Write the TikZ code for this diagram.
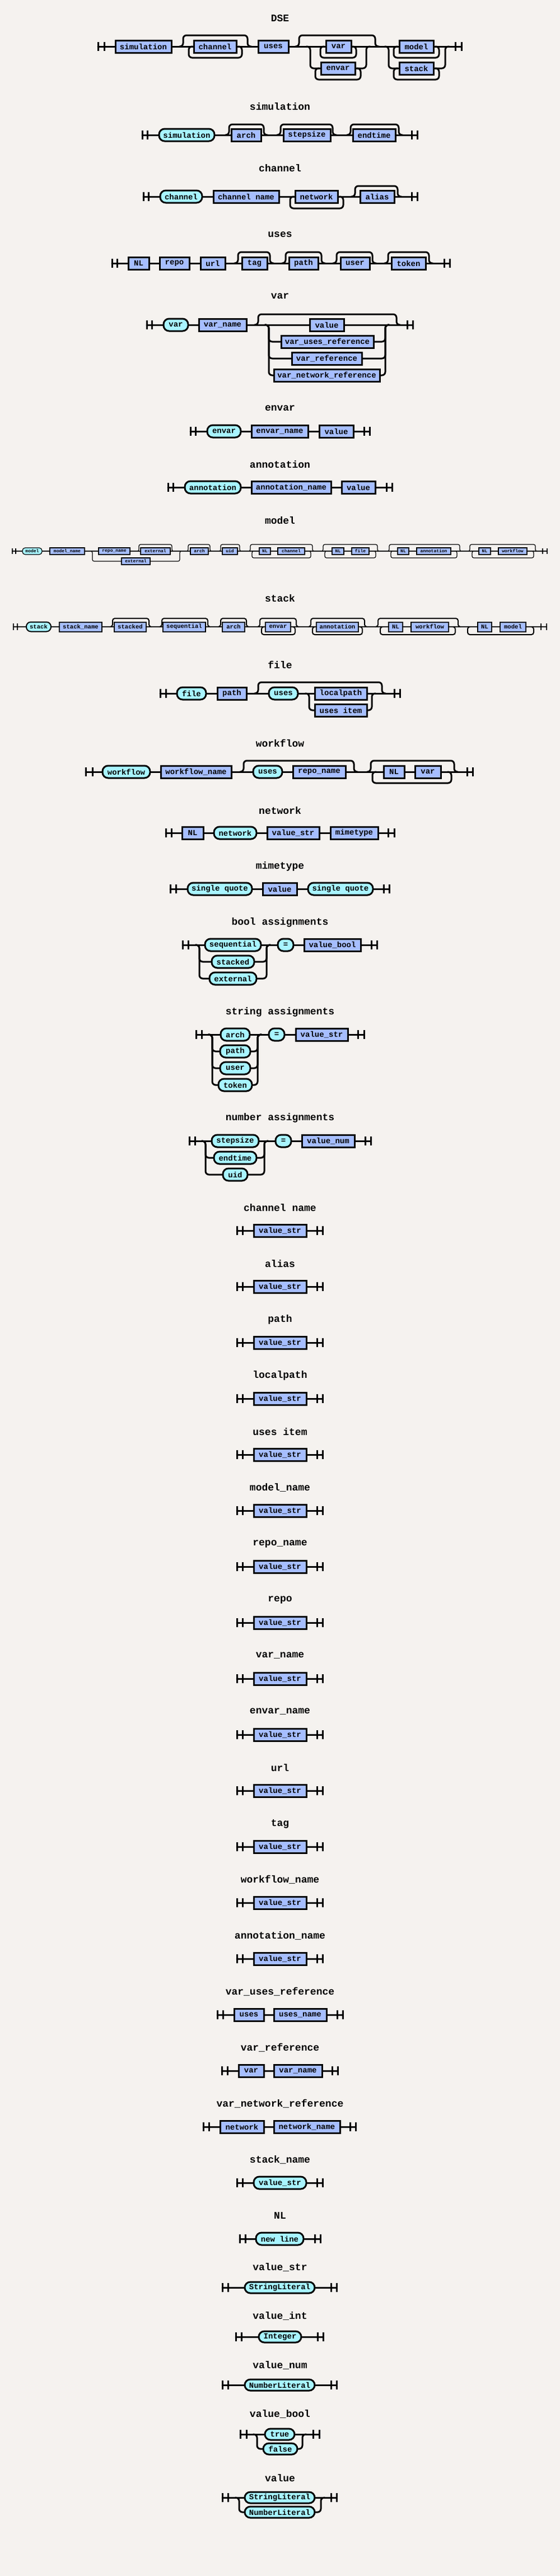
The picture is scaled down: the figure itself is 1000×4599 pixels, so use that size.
\documentclass[tikz,border=0pt]{standalone}
\usepackage{fontspec}
\setmainfont{Liberation Mono}
\begin{document}
\begin{tikzpicture}[x=0.5pt,y=-0.5pt,
  ln/.style={line width=1.5pt,rounded corners=3pt,line cap=round},
  bar/.style={line width=1.5pt},
  box/.style={draw,line width=1.5pt,inner sep=0pt,minimum height=11pt,font=\fontsize{7}{8}\selectfont\bfseries},
  term/.style={box,fill=termc,rounded corners=5pt},
  nt/.style={box,fill=ntc},
  title/.style={font=\fontsize{9}{10}\selectfont\bfseries}]
\definecolor{termc}{HTML}{A8F4FF}
\definecolor{ntc}{HTML}{A6BEFF}
\definecolor{bgc}{HTML}{F5F2EF}
\def\off{7}\def\bh{8}
\newcommand\TT[5]{\node[term,minimum width={(#3-#2)*0.5pt}] (#1) at ({(#2+#3)/2},#4) {#5};}
\newcommand\NN[5]{\node[nt,minimum width={(#3-#2)*0.5pt}] (#1) at ({(#2+#3)/2},#4) {#5};}
\newcommand\SB[4]{\draw[bar] (#2,#4-\bh) -- (#2,#4+\bh); \draw[bar] (#3,#4-\bh) -- (#3,#4+\bh); \coordinate (#1) at (#2,#4);}
\newcommand\EB[4]{\draw[bar] (#2,#4-\bh) -- (#2,#4+\bh); \draw[bar] (#3,#4-\bh) -- (#3,#4+\bh); \coordinate (#1) at (#3,#4);}
\newcommand\TI[3]{\node[title] (#1) at (500,#2) {#3};}
\newcommand\byp[4]{\draw[ln] (#1,#3) -- (#1+\off,#3) -- (#1+\off,#4) -- (#2-\off,#4) -- (#2-\off,#3) -- (#2,#3);}
\newcommand\lpb[4]{\draw[ln] (#1+\off,#3) -- (#1,#3) -- (#1,#4) -- (#2,#4) -- (#2,#3) -- (#2-\off,#3);}
\newcommand\chl[4]{\draw[ln] (#1-\off,#2) -- (#1,#2) -- (#1,#3) -- (#4.west);}
\newcommand\chr[4]{\draw[ln] (#4.east) -- (#1,#3) -- (#1,#2) -- (#1+\off,#2);}
\fill[bgc] (0,0) rectangle (1000,4599);
\useasboundingbox (0,0) rectangle (1000,4599);
% DSE
\TI{t1}{33}{DSE}
\SB{s1}{175}{186}{83}
\NN{d1}{206}{306}{83}{simulation}
\NN{d2}{346}{422}{83}{channel}
\NN{d3}{461}{515}{83}{uses}
\NN{d4}{582}{627}{83}{var}
\NN{d5}{573}{634}{122}{envar}
\NN{d6}{713}{774}{83}{model}
\NN{d7}{713}{774}{122}{stack}
\EB{e1}{813}{824}{83}
\draw[ln] (s1) -- (d1) -- (d2) -- (d3) -- (d4) -- (d6) -- (e1);
\byp{320}{449}{83}{63}\lpb{337}{432}{83}{103}
\byp{527}{677}{83}{63}\lpb{572}{636}{83}{103}
\chl{554}{83}{122}{d5}\chr{654}{83}{122}{d5}\lpb{563}{644}{122}{142}
\chl{694}{83}{122}{d7}\chr{795}{83}{122}{d7}
\lpb{703}{784}{83}{103}\lpb{703}{784}{122}{142}
% simulation
\TI{t2}{190}{simulation}
\SB{s2}{254}{263}{241}
\TT{a1}{284}{383}{241}{simulation}
\NN{a2}{413}{466}{241}{arch}
\NN{a3}{506}{590}{241}{stepsize}
\NN{a4}{630}{706}{241}{endtime}
\EB{e2}{735}{745}{241}
\draw[ln] (s2) -- (a1) -- (a2) -- (a3) -- (a4) -- (e2);
\byp{402}{478}{241}{222}\byp{494}{601}{241}{222}\byp{619}{719}{241}{222}
% channel
\TI{t3}{300}{channel}
\SB{s3}{256}{265}{351}
\TT{b1}{286}{361}{351}{channel}
\NN{b2}{381}{498}{351}{channel name}
\NN{b3}{527}{603}{351}{network}
\NN{b4}{643}{704}{351}{alias}
\EB{e3}{735}{745}{351}
\draw[ln] (s3) -- (b1) -- (b2) -- (b3) -- (b4) -- (e3);
\lpb{518}{613}{351}{372}\byp{627}{717}{351}{332}
% uses
\TI{t4}{419}{uses}
\SB{s4}{200}{209}{470}
\NN{c1}{229}{266}{470}{NL}
\NN{c2}{285}{338}{470}{repo}
\NN{c3}{358}{402}{470}{url}
\NN{c4}{432}{477}{470}{tag}
\NN{c5}{516}{568}{470}{path}
\NN{c6}{608}{660}{470}{user}
\NN{c7}{699}{760}{470}{token}
\EB{e4}{793}{803}{470}
\draw[ln] (s4) -- (c1) -- (c2) -- (c3) -- (c4) -- (c5) -- (c6) -- (c7) -- (e4);
\byp{418}{489}{470}{450}\byp{503}{581}{470}{450}\byp{594}{672}{470}{450}\byp{686}{773}{470}{450}
% var
\TI{t5}{529}{var}
\SB{s5}{262}{271}{580}
\TT{f1}{292}{336}{580}{var}
\NN{f2}{355}{440}{580}{var\_name}
\NN{f3}{553}{614}{580}{value}
\NN{f4}{502}{667}{610}{var\_uses\_reference}
\NN{f5}{521}{646}{640}{var\_reference}
\NN{f6}{489}{678}{670}{var\_network\_reference}
\EB{e5}{727}{737}{580}
\draw[ln] (s5) -- (f1) -- (f2) -- (f3) -- (e5);
\byp{454}{715}{580}{561}
\chl{480}{580}{610}{f4}\chr{688}{580}{610}{f4}
\chl{480}{580}{640}{f5}\chr{688}{580}{640}{f5}
\chl{480}{580}{670}{f6}\chr{688}{580}{670}{f6}
% envar
\TI{t6}{729}{envar}
\SB{s6}{340}{349}{770}
\TT{g1}{370}{430}{770}{envar}
\NN{g2}{449}{550}{770}{envar\_name}
\NN{g3}{570}{631}{770}{value}
\EB{e6}{650}{660}{770}
\draw[ln] (s6) -- (g1) -- (g2) -- (g3) -- (e6);
% annotation
\TI{t7}{829}{annotation}
\SB{s7}{300}{309}{870}
\TT{h1}{330}{430}{870}{annotation}
\NN{h2}{449}{591}{870}{annotation\_name}
\NN{h3}{610}{670}{870}{value}
\EB{e7}{690}{700}{870}
\draw[ln] (s7) -- (h1) -- (h2) -- (h3) -- (e7);
% model
\TI{t8}{929}{model}
\begin{scope}[ln/.append style={line width=0.6pt,rounded corners=1.5pt},bar/.append style={line width=0.6pt},
  box/.append style={line width=0.6pt,minimum height=6pt,font=\fontsize{4}{5}\selectfont\bfseries},
  term/.append style={rounded corners=2.5pt}]
\def\off{4}\def\bh{5}
\SB{s8}{22}{28}{984}
\TT{m1}{40}{75}{984}{model}
\NN{m2}{89}{151}{984}{model\_name}
\NN{m3}{176}{232}{984}{repo\_name}
\NN{m4}{251}{304}{984}{external}
\NN{m5}{217}{268}{1002}{external}
\NN{m6}{340}{372}{984}{arch}
\NN{m7}{397}{424}{984}{uid}
\NN{m8}{463}{483}{984}{NL}
\NN{m9}{496}{544}{984}{channel}
\NN{m10}{593}{614}{984}{NL}
\NN{m11}{628}{659}{984}{file}
\NN{m12}{710}{730}{984}{NL}
\NN{m13}{744}{805}{984}{annotation}
\NN{m14}{855}{876}{984}{NL}
\NN{m15}{890}{941}{984}{workflow}
\EB{e8}{969}{977}{984}
\draw[ln] (s8) -- (m1) -- (m2) -- (m3) -- (m4) -- (m6) -- (m7) -- (m8) -- (m9) -- (m10) -- (m11) -- (m12) -- (m13) -- (m14) -- (m15) -- (e8);
\byp{244}{311}{984}{972}
\chl{165}{984}{1002}{m5}\chr{321}{984}{1002}{m5}
\byp{332}{379}{984}{972}\byp{390}{432}{984}{972}
\byp{443}{562}{984}{972}\lpb{450}{555}{984}{996}
\byp{573}{678}{984}{972}\lpb{580}{671}{984}{996}
\byp{691}{825}{984}{972}\lpb{698}{816}{984}{996}
\byp{835}{960}{984}{972}\lpb{843}{953}{984}{996}
\end{scope}
% stack
\TI{t9}{1068}{stack}
\begin{scope}[ln/.append style={line width=1pt,rounded corners=2pt},bar/.append style={line width=1pt},
  box/.append style={line width=1pt,minimum height=8.5pt,font=\fontsize{5.3}{6}\selectfont\bfseries},
  term/.append style={rounded corners=4pt}]
\def\off{5}\def\bh{6}
\SB{s9}{24}{31}{1119}
\TT{k1}{47}{91}{1119}{stack}
\NN{k2}{106}{182}{1119}{stack\_name}
\NN{k3}{204}{261}{1119}{stacked}
\NN{k4}{291}{367}{1119}{sequential}
\NN{k5}{397}{437}{1119}{arch}
\NN{k6}{474}{519}{1119}{envar}
\NN{k7}{565}{640}{1119}{annotation}
\NN{k8}{694}{719}{1119}{NL}
\NN{k9}{734}{801}{1119}{workflow}
\NN{k10}{853}{878}{1119}{NL}
\NN{k11}{893}{939}{1119}{model}
\EB{e9}{966}{976}{1119}
\draw[ln] (s9) -- (k1) -- (k2) -- (k3) -- (k4) -- (k5) -- (k6) -- (k7) -- (k8) -- (k9) -- (k10) -- (k11) -- (e9);
\byp{196}{271}{1119}{1104}\byp{284}{376}{1119}{1104}\byp{389}{445}{1119}{1104}
\byp{459}{534}{1119}{1104}\lpb{467}{527}{1119}{1133}
\byp{550}{656}{1119}{1104}\lpb{558}{647}{1119}{1133}
\byp{670}{823}{1119}{1104}\lpb{679}{813}{1119}{1133}
\lpb{835}{953}{1119}{1133}
\end{scope}
% file
\TI{t10}{1187}{file}
\SB{s10}{286}{296}{1238}
\TT{p1}{316}{368}{1238}{file}
\NN{p2}{388}{440}{1238}{path}
\TT{p3}{480}{532}{1238}{uses}
\NN{p4}{562}{655}{1238}{localpath}
\NN{p5}{562}{655}{1268}{uses item}
\EB{e10}{704}{714}{1238}
\draw[ln] (s10) -- (p1) -- (p2) -- (p3) -- (p4) -- (e10);
\byp{454}{689}{1238}{1218}
\chl{552}{1238}{1268}{p5}\chr{664}{1238}{1268}{p5}
% workflow
\TI{t11}{1327}{workflow}
\SB{s11}{153}{165}{1378}
\TT{w1}{183}{268}{1378}{workflow}
\NN{w2}{287}{413}{1378}{workflow\_name}
\TT{w3}{452}{504}{1378}{uses}
\NN{w4}{523}{617}{1378}{repo\_name}
\NN{w5}{685}{722}{1378}{NL}
\NN{w6}{741}{787}{1378}{var}
\EB{e11}{834}{844}{1378}
\draw[ln] (s11) -- (w1) -- (w2) -- (w3) -- (w4) -- (w5) -- (w6) -- (e11);
\byp{428}{639}{1378}{1358}\byp{655}{818}{1378}{1358}\lpb{665}{806}{1378}{1398}
% network
\TI{t12}{1447}{network}
\SB{s12}{296}{306}{1487}
\NN{n1}{325}{363}{1487}{NL}
\TT{n2}{382}{458}{1487}{network}
\NN{n3}{477}{570}{1487}{value\_str}
\NN{n4}{590}{675}{1487}{mimetype}
\EB{e12}{693}{704}{1487}
\draw[ln] (s12) -- (n1) -- (n2) -- (n3) -- (n4) -- (e12);
% mimetype
\TI{t13}{1547}{mimetype}
\SB{s13}{304}{314}{1587}
\TT{q1}{335}{450}{1587}{single quote}
\NN{q2}{469}{530}{1587}{value}
\TT{q3}{550}{666}{1587}{single quote}
\EB{e13}{685}{695}{1587}
\draw[ln] (s13) -- (q1) -- (q2) -- (q3) -- (e13);
% bool assignments
\TI{t14}{1647}{bool assignments}
\SB{s14}{326}{336}{1687}
\TT{r1}{366}{466}{1687}{sequential}
\TT{r2}{378}{454}{1717}{stacked}
\TT{r3}{374}{458}{1747}{external}
\TT{r4}{496}{524}{1687}{=}
\NN{r5}{543}{644}{1687}{value\_bool}
\EB{e14}{663}{673}{1687}
\draw[ln] (s14) -- (r1) -- (r4) -- (r5) -- (e14);
\chl{356}{1687}{1717}{r2}\chr{476}{1687}{1717}{r2}
\chl{356}{1687}{1747}{r3}\chr{476}{1687}{1747}{r3}
% string assignments
\TI{t15}{1807}{string assignments}
\SB{s15}{350}{360}{1847}
\TT{u1}{394}{446}{1847}{arch}
\TT{u2}{393}{447}{1877}{path}
\TT{u3}{393}{447}{1907}{user}
\TT{u4}{390}{450}{1937}{token}
\TT{u5}{480}{508}{1847}{=}
\NN{u6}{528}{621}{1847}{value\_str}
\EB{e15}{639}{650}{1847}
\draw[ln] (s15) -- (u1) -- (u5) -- (u6) -- (e15);
\chl{379}{1847}{1877}{u2}\chr{460}{1847}{1877}{u2}
\chl{379}{1847}{1907}{u3}\chr{460}{1847}{1907}{u3}
\chl{379}{1847}{1937}{u4}\chr{460}{1847}{1937}{u4}
% number assignments
\TI{t16}{1996}{number assignments}
\SB{s16}{338}{348}{2037}
\TT{x1}{378}{462}{2037}{stepsize}
\TT{x2}{382}{458}{2067}{endtime}
\TT{x3}{398}{442}{2097}{uid}
\TT{x4}{492}{520}{2037}{=}
\NN{x5}{539}{633}{2037}{value\_num}
\EB{e16}{652}{662}{2037}
\draw[ln] (s16) -- (x1) -- (x4) -- (x5) -- (e16);
\chl{367}{2037}{2067}{x2}\chr{472}{2037}{2067}{x2}
\chl{367}{2037}{2097}{x3}\chr{472}{2037}{2097}{x3}
% simple value_str rules
\foreach \nm [count=\i from 0] in {channel name,alias,path,localpath,uses item,model\_name,repo\_name,repo,var\_name,envar\_name,url,tag,workflow\_name,annotation\_name}{
  \pgfmathsetmacro\ry{2197+100*\i}
  \TI{vt\i}{\ry-41}{\nm}
  \SB{vs\i}{423}{433}{\ry}
  \NN{vn\i}{453}{547}{\ry}{value\_str}
  \EB{ve\i}{566}{576}{\ry}
  \draw[ln] (vs\i) -- (vn\i) -- (ve\i);
}
% var_uses_reference
\TI{t17}{3556}{var\_uses\_reference}
\SB{s17}{388}{398}{3597}
\NN{y1}{418}{471}{3597}{uses}
\NN{y2}{489}{583}{3597}{uses\_name}
\EB{e17}{602}{612}{3597}
\draw[ln] (s17) -- (y1) -- (y2) -- (e17);
\TI{t18}{3656}{var\_reference}
\SB{s18}{396}{406}{3697}
\NN{y3}{426}{471}{3697}{var}
\NN{y4}{489}{575}{3697}{var\_name}
\EB{e18}{593}{603}{3697}
\draw[ln] (s18) -- (y3) -- (y4) -- (e18);
\TI{t19}{3756}{var\_network\_reference}
\SB{s19}{363}{373}{3797}
\NN{y5}{393}{471}{3797}{network}
\NN{y6}{489}{607}{3797}{network\_name}
\EB{e19}{625}{635}{3797}
\draw[ln] (s19) -- (y5) -- (y6) -- (e19);
\TI{t20}{3856}{stack\_name}
\SB{s20}{423}{433}{3897}
\TT{y7}{453}{547}{3897}{value\_str}
\EB{e20}{566}{576}{3897}
\draw[ln] (s20) -- (y7) -- (e20);
\TI{t21}{3956}{NL}
\SB{s21}{428}{438}{3997}
\TT{y8}{457}{542}{3997}{new line}
\EB{e21}{562}{572}{3997}
\draw[ln] (s21) -- (y8) -- (e21);
% value section
\begin{scope}[box/.append style={minimum height=10pt}]
\TI{t22}{4048}{value\_str}
\SB{s22}{397}{407}{4084}
\TT{z1}{437}{562}{4084}{StringLiteral}
\EB{e22}{591}{601}{4084}
\draw[ln] (s22) -- (z1) -- (e22);
\TI{t23}{4135}{value\_int}
\SB{s23}{421}{431}{4172}
\TT{z2}{462}{538}{4172}{Integer}
\EB{e23}{567}{577}{4172}
\draw[ln] (s23) -- (z2) -- (e23);
\TI{t24}{4223}{value\_num}
\SB{s24}{397}{407}{4258}
\TT{z3}{437}{562}{4258}{NumberLiteral}
\EB{e24}{591}{601}{4258}
\draw[ln] (s24) -- (z3) -- (e24);
\TI{t25}{4310}{value\_bool}
\SB{s25}{429}{440}{4346}
\TT{z4}{473}{526}{4346}{true}
\TT{z5}{470}{531}{4372}{false}
\EB{e25}{559}{570}{4346}
\draw[ln] (s25) -- (z4) -- (e25);
\chl{459}{4346}{4372}{z5}\chr{540}{4346}{4372}{z5}
\TI{t26}{4424}{value}
\SB{s26}{397}{407}{4459}
\TT{z6}{437}{562}{4459}{StringLiteral}
\TT{z7}{437}{562}{4485}{NumberLiteral}
\EB{e26}{591}{601}{4459}
\draw[ln] (s26) -- (z6) -- (e26);
\chl{427}{4459}{4485}{z7}\chr{573}{4459}{4485}{z7}
\end{scope}
\end{tikzpicture}
\end{document}
